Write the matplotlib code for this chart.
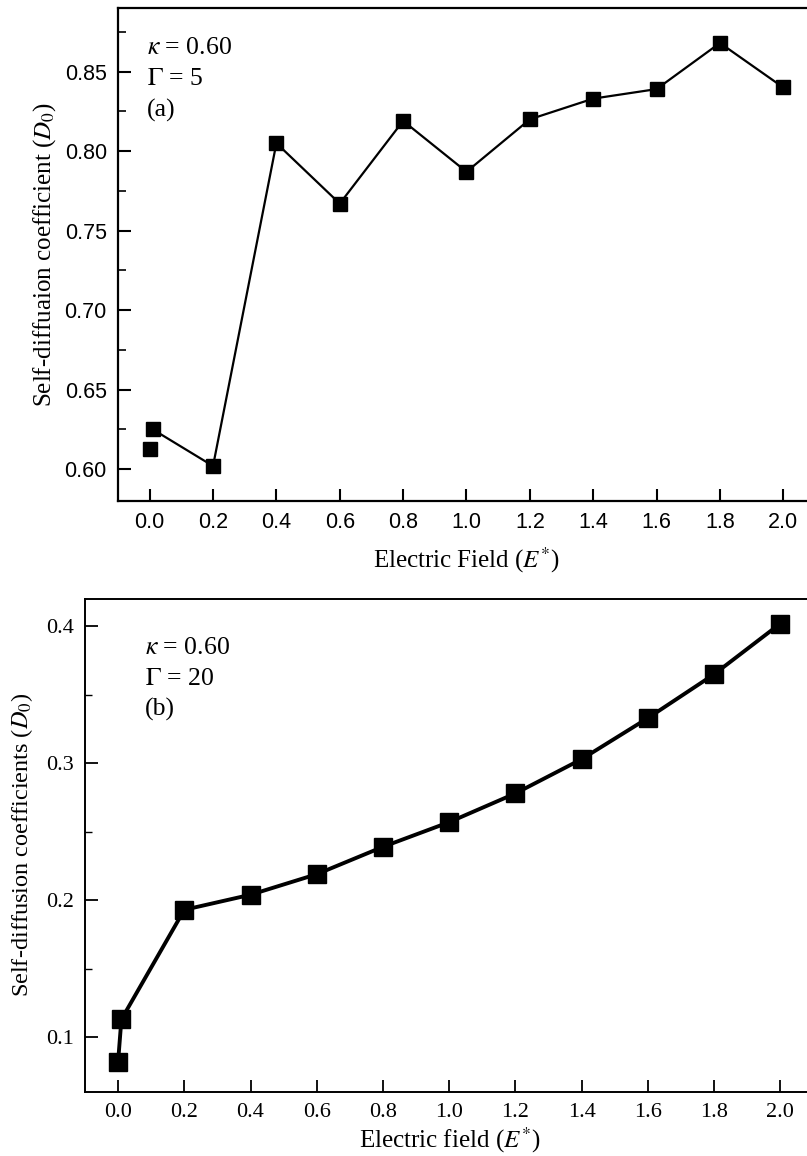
import numpy as np
import matplotlib
matplotlib.use("Agg")
import matplotlib.pyplot as plt

# ------------------------------------------------------------
# Data
# ------------------------------------------------------------
# panel (a): kappa = 0.60, Gamma = 5
field_a_single = [0.0]
diff_a_single = [0.613]
field_a = [0.01, 0.2, 0.4, 0.6, 0.8, 1.0, 1.2, 1.4, 1.6, 1.8, 2.0]
diff_a = [0.625, 0.602, 0.805, 0.767, 0.819, 0.787, 0.820, 0.833, 0.839, 0.868, 0.840]

# panel (b): kappa = 0.60, Gamma = 20
field_b = [0.0, 0.01, 0.2, 0.4, 0.6, 0.8, 1.0, 1.2, 1.4, 1.6, 1.8, 2.0]
diff_b = [0.082, 0.113, 0.193, 0.204, 0.219, 0.239, 0.257, 0.278, 0.303, 0.333, 0.365, 0.402]

xticks = [0.0, 0.2, 0.4, 0.6, 0.8, 1.0, 1.2, 1.4, 1.6, 1.8, 2.0]
yticks_a = [0.60, 0.65, 0.70, 0.75, 0.80, 0.85]
yticks_b = [0.1, 0.2, 0.3, 0.4]

plt.rcParams['mathtext.fontset'] = 'stix'
SERIF = ['Liberation Serif', 'DejaVu Serif']
SANS = ['Liberation Sans', 'DejaVu Sans']

fig = plt.figure(figsize=(8.07, 11.56), dpi=100)

# ------------------------------------------------------------
# Panel (a)
# ------------------------------------------------------------
ax1 = fig.add_axes([0.1462, 0.5666, 0.8637, 0.4265])
ax1.plot(field_a, diff_a, color='black', lw=1.6, marker='s', ms=10, mfc='black', mec='black')
ax1.plot(field_a_single, diff_a_single, ls='none', marker='s', ms=10, color='black')
ax1.set_xlim(-0.1, 2.1)
ax1.set_ylim(0.58, 0.89)
ax1.set_xticks(xticks)
ax1.set_xticklabels(['%.1f' % v for v in xticks], family=SANS, fontsize=15.5)
ax1.set_yticks(yticks_a)
ax1.set_yticklabels(['%.2f' % v for v in yticks_a], family=SANS, fontsize=15.5)
ax1.set_yticks([0.625, 0.675, 0.725, 0.775, 0.825, 0.875], minor=True)
ax1.tick_params(which='major', direction='in', length=9, width=1.5, pad=8)
ax1.tick_params(which='minor', direction='in', length=6, width=1.2)
ax1.tick_params(axis='x', which='minor', bottom=False)
for s in ['left', 'bottom', 'top']:
    ax1.spines[s].set_linewidth(1.6)
ax1.spines['right'].set_visible(False)
ax1.set_xlabel(r'Electric Field ($E^{*}$)', family=SERIF, fontsize=18)
ax1.set_ylabel(r'Self-diffuaion coefficient ($D_{\mathit{0}}$)', family=SERIF, fontsize=18)
ax1.xaxis.set_label_coords(0.5, -0.12)
ax1.yaxis.set_label_coords(-0.105, 0.5)
ax1.xaxis.label.set_va('center')
ax1.yaxis.label.set_va('center')
ax1.text(0.0416, 0.919, r'$\kappa$ = 0.60', transform=ax1.transAxes, family=SERIF, fontsize=18.5, va='center')
ax1.text(0.0416, 0.856, r'$\Gamma$ = 5', transform=ax1.transAxes, family=SERIF, fontsize=18.5, va='center')
ax1.text(0.0416, 0.793, '(a)', transform=ax1.transAxes, family=SERIF, fontsize=18.5, va='center')

# ------------------------------------------------------------
# Panel (b)
# ------------------------------------------------------------
ax2 = fig.add_axes([0.1053, 0.0554, 0.9027, 0.4265])
ax2.plot(field_b, diff_b, color='black', lw=2.8, marker='s', ms=13, mfc='black', mec='black')
ax2.set_xlim(-0.1, 2.1)
ax2.set_ylim(0.06, 0.42)
ax2.set_xticks(xticks)
ax2.set_xticklabels(['%.1f' % v for v in xticks], family=SERIF, fontsize=16)
ax2.set_yticks(yticks_b)
ax2.set_yticklabels(['%.1f' % v for v in yticks_b], family=SERIF, fontsize=16)
ax2.set_yticks([0.15, 0.25, 0.35], minor=True)
ax2.tick_params(which='major', direction='in', length=9, width=1.3, pad=8)
ax2.tick_params(which='minor', direction='in', length=5, width=1.0)
ax2.tick_params(axis='x', which='minor', bottom=False)
for s in ['left', 'bottom', 'top']:
    ax2.spines[s].set_linewidth(1.4)
ax2.spines['right'].set_visible(False)
ax2.set_xlabel(r'Electric field ($E^{*}$)', family=SERIF, fontsize=18)
ax2.set_ylabel(r'Self-diffusion coefficients ($D_{\mathit{0}}$)', family=SERIF, fontsize=17.5)
ax2.xaxis.set_label_coords(0.5, -0.097)
ax2.yaxis.set_label_coords(-0.0865, 0.5)
ax2.xaxis.label.set_va('center')
ax2.yaxis.label.set_va('center')
ax2.text(0.082, 0.901, r'$\kappa$ = 0.60', transform=ax2.transAxes, family=SERIF, fontsize=18.5, va='center')
ax2.text(0.082, 0.838, r'$\Gamma$ = 20', transform=ax2.transAxes, family=SERIF, fontsize=18.5, va='center')
ax2.text(0.082, 0.775, '(b)', transform=ax2.transAxes, family=SERIF, fontsize=18.5, va='center')

fig.savefig('out.png', dpi=100)
